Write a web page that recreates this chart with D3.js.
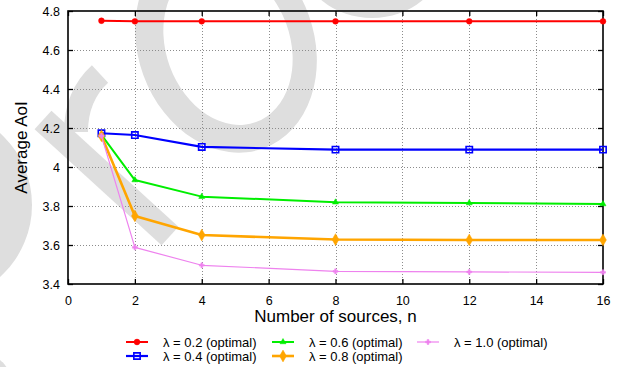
<!DOCTYPE html>
<html>
<head>
<meta charset="utf-8">
<script src="https://cdn.jsdelivr.net/npm/d3@7"></script>
<style>
  html, body { margin: 0; padding: 0; background: #ffffff; }
  svg { display: block; font-family: "Liberation Sans", Arial, Helvetica, sans-serif; }
</style>
</head>
<body>
<svg id="chart" width="619" height="367"></svg>
<script>
// ---- data ----
const nValues = [1, 2, 4, 8, 12, 16];
const seriesLabels = ["λ = 0.2 (optimal)", "λ = 0.4 (optimal)", "λ = 0.6 (optimal)", "λ = 0.8 (optimal)", "λ = 1.0 (optimal)"];
const aoiLambda02 = [4.750, 4.747, 4.747, 4.747, 4.747, 4.747];
const aoiLambda04 = [4.173, 4.164, 4.103, 4.089, 4.089, 4.089];
const aoiLambda06 = [4.165, 3.933, 3.848, 3.819, 3.815, 3.810];
const aoiLambda08 = [4.160, 3.749, 3.651, 3.628, 3.626, 3.626];
const aoiLambda10 = [4.160, 3.588, 3.496, 3.465, 3.462, 3.460];
const xTickValues = [0, 2, 4, 6, 8, 10, 12, 14, 16];
const yTickValues = [3.4, 3.6, 3.8, 4.0, 4.2, 4.4, 4.6, 4.8];
const xTitle = "Number of sources, n";
const yTitle = "Average AoI";

// ---- styles ----
const styles = [
  { color: "#ff0000", width: 2,   symbol: d3.symbolCircle,   size: 26, fill: true },
  { color: "#0000ff", width: 2.2, symbol: d3.symbolSquare,   size: 40, fill: false },
  { color: "#00ee00", width: 2,   symbol: d3.symbolTriangle, size: 16, fill: true },
  { color: "#ffa500", width: 2.6, symbol: d3.symbolDiamond,  size: 40, fill: true },
  { color: "#ee82ee", width: 1.2, symbol: d3.symbolCross,    size: 14, fill: true }
];
const seriesValues = [aoiLambda02, aoiLambda04, aoiLambda06, aoiLambda08, aoiLambda10];

const svg = d3.select("#chart");
const margin = { left: 68, right: 16, top: 11, bottom: 83 };
const W = 619, H = 367;

// ---- watermark (background decoration) ----
const wm = svg.append("g").attr("fill", "#dedede");
wm.append("ellipse").attr("cx", 226).attr("cy", 45).attr("rx", 88).attr("ry", 110)
  .attr("transform", "rotate(-20,226,45)");
wm.append("ellipse").attr("cx", 228).attr("cy", 45).attr("rx", 62).attr("ry", 82)
  .attr("transform", "rotate(-20,228,45)").attr("fill", "#ffffff");
wm.append("ellipse").attr("cx", 372).attr("cy", -40).attr("rx", 70).attr("ry", 58);
wm.append("circle").attr("cx", -65).attr("cy", 205).attr("r", 97);
wm.append("circle").attr("cx", -20).attr("cy", 385).attr("r", 32);
wm.append("path").attr("d", "M 43,120 L 170,236").attr("stroke", "#dedede").attr("stroke-width", 25).attr("fill", "none");
wm.append("path").attr("d", "M 100,74 Q 76,96 76,132").attr("stroke", "#dedede").attr("stroke-width", 24).attr("fill", "none");

// ---- scales ----
const x = d3.scaleLinear().domain([0, 16]).range([margin.left, W - margin.right]);
const y = d3.scaleLinear().domain([3.4, 4.8]).range([H - margin.bottom, margin.top]);

// grid
const grid = svg.append("g").attr("stroke", "#8c8c8c").attr("stroke-width", 1).attr("stroke-dasharray", "1,2");
grid.selectAll("line.gx").data(xTickValues.slice(1, -1)).join("line")
  .attr("x1", d => Math.round(x(d)) + 0.5).attr("x2", d => Math.round(x(d)) + 0.5)
  .attr("y1", y(3.4)).attr("y2", y(4.8));
grid.selectAll("line.gy").data(yTickValues.slice(1, -1)).join("line")
  .attr("y1", d => Math.round(y(d)) + 0.5).attr("y2", d => Math.round(y(d)) + 0.5)
  .attr("x1", x(0)).attr("x2", x(16));

// axes (ticks inward)
const fmtY = d => (d === 4 ? "4" : d3.format(".1f")(d));
const axB = svg.append("g").attr("transform", `translate(0,${y(3.4)})`)
  .call(d3.axisBottom(x).tickValues(xTickValues).tickSizeInner(-5).tickSizeOuter(0).tickPadding(10).tickFormat(d3.format("d")));
const axT = svg.append("g").attr("transform", `translate(0,${y(4.8)})`)
  .call(d3.axisTop(x).tickValues(xTickValues).tickSizeInner(-5).tickSizeOuter(0).tickFormat(""));
const axL = svg.append("g").attr("transform", `translate(${x(0)},0)`)
  .call(d3.axisLeft(y).tickValues(yTickValues).tickSizeInner(-5).tickSizeOuter(0).tickPadding(8).tickFormat(fmtY));
const axR = svg.append("g").attr("transform", `translate(${x(16)},0)`)
  .call(d3.axisRight(y).tickValues(yTickValues).tickSizeInner(-5).tickSizeOuter(0).tickFormat(""));
[axB, axT, axL, axR].forEach(a => {
  a.select(".domain").remove();
  a.selectAll(".tick line").attr("stroke", "#000").attr("stroke-width", 1.3);
  a.selectAll("text").attr("font-size", "12.5px").attr("fill", "#000")
    .attr("font-family", "'Liberation Sans', Arial, sans-serif");
});
axB.selectAll("text").attr("dy", "0.9em");

// frame
svg.append("rect").attr("x", x(0)).attr("y", y(4.8)).attr("width", x(16) - x(0)).attr("height", y(3.4) - y(4.8))
  .attr("fill", "none").attr("stroke", "#000").attr("stroke-width", 1.6);

// series
const line = d3.line().x(d => x(d[0])).y(d => y(d[1]));
seriesValues.forEach((vals, i) => {
  const st = styles[i];
  const pts = nValues.map((n, k) => [n, vals[k]]);
  const g = svg.append("g");
  g.append("path").attr("d", line(pts)).attr("fill", "none").attr("stroke", st.color)
    .attr("stroke-width", st.width).attr("stroke-linejoin", "round");
  g.selectAll("path.m").data(pts).join("path").attr("class", "m")
    .attr("transform", d => `translate(${x(d[0])},${y(d[1])})`)
    .attr("d", d3.symbol().type(st.symbol).size(st.size))
    .attr("fill", st.fill ? st.color : "none")
    .attr("stroke", st.color).attr("stroke-width", st.fill ? 0.5 : 1.6);
});

// axis titles
svg.append("text").attr("x", (x(0) + x(16)) / 2).attr("y", 322).attr("text-anchor", "middle")
  .attr("font-size", "17px").attr("fill", "#000").text(xTitle);
svg.append("text").attr("transform", `translate(27,${(y(3.4) + y(4.8)) / 2}) rotate(-90)`)
  .attr("text-anchor", "middle").attr("font-size", "17px").attr("fill", "#000").text(yTitle);

// legend
const legendCols = [126, 272, 417];
const legendRows = [342, 356];
seriesLabels.forEach((lab, i) => {
  const st = styles[i];
  const cx = legendCols[Math.floor(i / 2)];
  const cy = legendRows[i % 2];
  const g = svg.append("g");
  g.append("line").attr("x1", cx).attr("x2", cx + 22).attr("y1", cy).attr("y2", cy)
    .attr("stroke", st.color).attr("stroke-width", st.width);
  g.append("path").attr("transform", `translate(${cx + 11},${cy})`)
    .attr("d", d3.symbol().type(st.symbol).size(st.size))
    .attr("fill", st.fill ? st.color : "none")
    .attr("stroke", st.color).attr("stroke-width", st.fill ? 0.5 : 1.6);
  g.append("text").attr("x", cx + 37).attr("y", cy).attr("dy", "0.35em")
    .attr("font-size", "13px").attr("fill", "#000").text(lab);
});
</script>
</body>
</html>
